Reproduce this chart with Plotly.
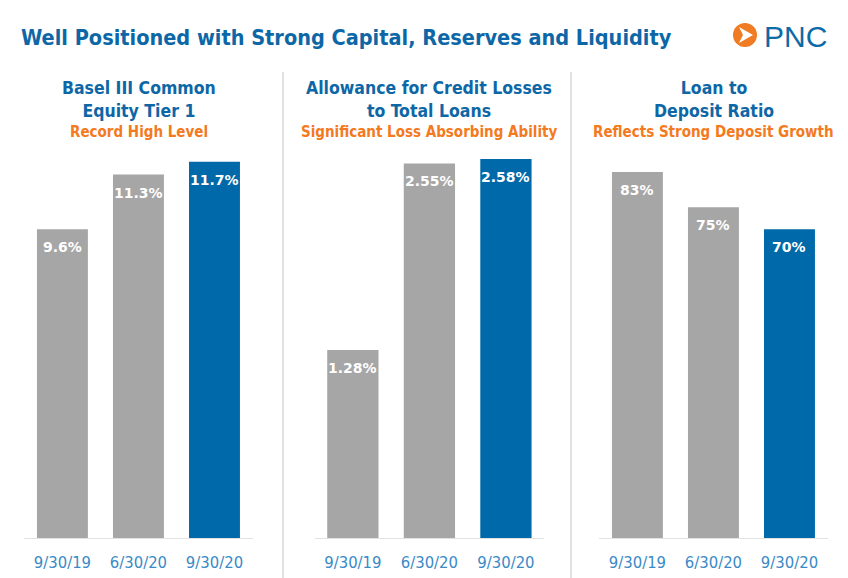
import plotly.graph_objects as go

OUTPUT_FILE = 'out.html'

# Data
DATES = ['9/30/19', '6/30/20', '9/30/20']
CET1 = [9.6, 11.3, 11.7]
ACL = [1.28, 2.55, 2.58]
LTD = [83, 75, 70]
CET1_LABELS = ['9.6%', '11.3%', '11.7%']
ACL_LABELS = ['1.28%', '2.55%', '2.58%']
LTD_LABELS = ['83%', '75%', '70%']

PANEL_TITLES = ['Basel III Common<br>Equity Tier 1',
                'Allowance for Credit Losses<br>to Total Loans',
                'Loan to<br>Deposit Ratio']
PANEL_SUBTITLES = ['Record High Level',
                   'Significant Loss Absorbing Ability',
                   'Reflects Strong Deposit Growth']

# Styling
# the page body has an 8px margin, so the figure is sized to fill the rest
OFF = 8
W, H = 848 - OFF, 578 - OFF
GRAY = '#a6a6a6'
BLUE = '#0069aa'
TITLE_BLUE = '#0d67a6'
ORANGE = '#f37a21'
DATE_BLUE = '#3a8ac6'
NARROW = 'Liberation Sans Narrow, DejaVu Sans Condensed, Arial Narrow, sans-serif'


def px_x(v):
    # screen pixel -> paper fraction
    return (v - OFF) / W


def px_y(v):
    return 1 - (v - OFF) / H


panels = [
    (CET1, CET1_LABELS, [24.4, 252.5], 13.62),
    (ACL, ACL_LABELS, [314.6, 544.2], 2.982),
    (LTD, LTD_LABELS, [599.4, 827.5], 99.3),
]
y_dom = [px_y(538), px_y(100)]
bar_colors = [GRAY, GRAY, BLUE]

fig = go.Figure()
annotations = []

for i, (vals, labels, xdom, ymax) in enumerate(panels, start=1):
    sfx = '' if i == 1 else str(i)
    fig.add_trace(go.Bar(
        x=DATES, y=vals, marker=dict(color=bar_colors, line=dict(width=0)),
        xaxis='x' + sfx, yaxis='y' + sfx, showlegend=False,
        hoverinfo='skip'
    ))
    fig.layout['xaxis' + sfx] = dict(
        domain=[px_x(xdom[0]), px_x(xdom[1])], anchor='y' + sfx,
        showline=True, linecolor='#e2e2e2', linewidth=1, showgrid=False,
        zeroline=False, ticks='', ticklabelstandoff=9,
        tickfont=dict(family=NARROW, size=16.5, color=DATE_BLUE),
        fixedrange=True
    )
    fig.layout['yaxis' + sfx] = dict(
        domain=y_dom, anchor='x' + sfx, range=[0, ymax], visible=False,
        fixedrange=True
    )
    for d, v, lab in zip(DATES, vals, labels):
        annotations.append(dict(
            x=d, y=v, xref='x' + sfx, yref='y' + sfx, text='<b>%s</b>' % lab,
            showarrow=False, yanchor='top', yshift=-8,
            font=dict(family='DejaVu Sans', size=14, color='white')
        ))

# Panel headings
centers = [138.5, 429, 713.5]
for c, t, s in zip(centers, PANEL_TITLES, PANEL_SUBTITLES):
    annotations.append(dict(
        x=px_x(c), y=px_y(76), xref='paper', yref='paper', text='<b>%s</b>' % t,
        showarrow=False, xanchor='center', yanchor='top', align='center',
        font=dict(family=NARROW, size=17.5, color=TITLE_BLUE)
    ))
    annotations.append(dict(
        x=px_x(c), y=px_y(132), xref='paper', yref='paper', text='<b>%s</b>' % s,
        showarrow=False, xanchor='center', yanchor='middle',
        font=dict(family=NARROW, size=15, color=ORANGE)
    ))

# Main title
annotations.append(dict(
    x=px_x(19), y=px_y(37), xref='paper', yref='paper',
    text='<b>Well Positioned with Strong Capital, Reserves and Liquidity</b>',
    showarrow=False, xanchor='left', yanchor='middle',
    font=dict(family=NARROW, size=21.5, color=TITLE_BLUE)
))
# Logo wordmark
annotations.append(dict(
    x=px_x(829), y=px_y(36), xref='paper', yref='paper', text='PNC',
    showarrow=False, xanchor='right', yanchor='middle',
    font=dict(family='Liberation Sans Narrow, sans-serif', size=30, color='#0d6aa8')
))

shapes = []
# Vertical dividers
for xd in [283, 571]:
    shapes.append(dict(type='line', xref='paper', yref='paper',
                       x0=px_x(xd), x1=px_x(xd), y0=px_y(72), y1=0,
                       line=dict(color='#c4c4c4', width=1)))

# Logo mark: orange disc with white arrow
cx, cy, r = 745, 35, 12
shapes.append(dict(type='circle', xref='paper', yref='paper',
                   x0=px_x(cx - r), x1=px_x(cx + r), y0=px_y(cy + r), y1=px_y(cy - r),
                   fillcolor='#ef7b22', line=dict(width=0)))
pts = [(cx - 6, cy - 8), (cx + 8, cy), (cx - 6, cy + 8), (cx - 2, cy)]
path = 'M ' + ' L '.join('%f,%f' % (px_x(a), px_y(b)) for a, b in pts) + ' Z'
shapes.append(dict(type='path', xref='paper', yref='paper', path=path,
                   fillcolor='white', line=dict(width=0)))

fig.update_layout(
    width=W, height=H,
    margin=dict(l=0, r=0, t=0, b=0),
    paper_bgcolor='white', plot_bgcolor='white',
    bargap=0.33,
    annotations=annotations,
    shapes=shapes,
)

fig.write_html(OUTPUT_FILE)
